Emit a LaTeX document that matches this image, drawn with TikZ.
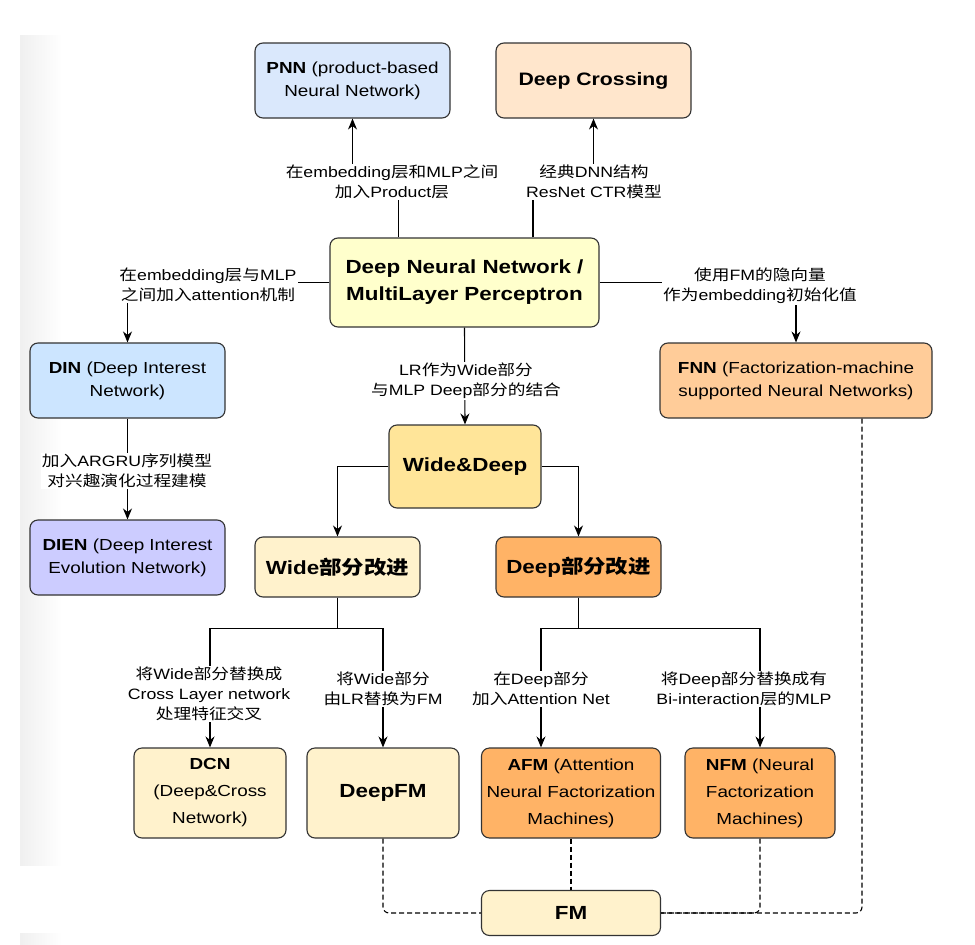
\documentclass[tikz,border=0pt]{standalone}
\usepackage{fontspec}
\usetikzlibrary{arrows.meta}

\setmainfont{Liberation Sans}[FakeStretch=1.18]
\newfontfamily\zhfont{Noto Sans CJK SC}[FakeStretch=1.18]

% Chinese characters switch to the CJK font by themselves
\XeTeXinterchartokenstate=1
\newXeTeXintercharclass\zhclass
\newcount\zhchar
\zhchar="4E00
\loop
  \XeTeXcharclass\zhchar=\zhclass
  \advance\zhchar by 1
\ifnum\zhchar<"A000 \repeat
\XeTeXinterchartoks 0 \zhclass = {\zhfont}
\XeTeXinterchartoks 4095 \zhclass = {\zhfont}
\XeTeXinterchartoks \zhclass 0 = {\rmfamily}

\definecolor{pnnblue}{HTML}{DAE8FC}
\definecolor{dinblue}{HTML}{CCE5FF}
\definecolor{dienviolet}{HTML}{CCCCFF}
\definecolor{peach}{HTML}{FFE6CC}
\definecolor{lightorange}{HTML}{FFCC99}
\definecolor{orange}{HTML}{FFB366}
\definecolor{paleyellow}{HTML}{FFFFCC}
\definecolor{wdyellow}{HTML}{FFE599}
\definecolor{cream}{HTML}{FFF2CC}

\begin{document}
\begin{tikzpicture}[
    x=1pt, y=-1pt,
    box/.style={
        draw=black!80, line width=1.1pt, rounded corners=8pt,
        align=center, inner sep=0pt,
        font=\fontsize{16}{23}\selectfont
    },
    tallbox/.style={box, font=\fontsize{16}{27}\selectfont},
    title/.style={box, font=\fontsize{19}{27}\selectfont\bfseries},
    lbl/.style={
        fill=white, align=center, inner sep=1pt,
        font=\fontsize{15}{20}\selectfont
    },
    arr/.style={line width=1.1pt, -{Stealth[length=11pt,width=9pt]}},
    fmlink/.style={line width=1.1pt, dash pattern=on 5pt off 3pt,
        rounded corners=6pt}
]
    \useasboundingbox (0,0) rectangle (975,945);
    \shade[left color=black!6, right color=white] (20,35) rectangle (62,865);
    \shade[left color=black!6, right color=white] (20,933) rectangle (62,945);

    % boxes
    \node[box, fill=pnnblue, minimum width=195pt, minimum height=75pt]
        (pnn) at (352.5,80.5) {\textbf{PNN} (product-based\\Neural Network)};
    \node[title, fill=peach, minimum width=195pt, minimum height=75pt,
        font=\fontsize{18}{24}\selectfont\bfseries]
        (crossing) at (593.5,80.5) {Deep Crossing};
    \node[title, fill=paleyellow, minimum width=269pt, minimum height=89pt]
        (dnn) at (464.5,282.5) {Deep Neural Network /\\MultiLayer Perceptron};
    \node[box, fill=dinblue, minimum width=195pt, minimum height=75pt]
        (din) at (127.5,380.5) {\textbf{DIN} (Deep Interest\\Network)};
    \node[box, fill=lightorange, minimum width=272pt, minimum height=75pt]
        (fnn) at (796,380.5)
        {\textbf{FNN} (Factorization-machine\\supported Neural Networks)};
    \node[title, fill=wdyellow, minimum width=152pt, minimum height=83pt]
        (widedeep) at (465,466.5) {Wide\&Deep};
    \node[box, fill=dienviolet, minimum width=195pt, minimum height=75pt]
        (dien) at (127.5,557.5) {\textbf{DIEN} (Deep Interest\\Evolution Network)};
    \node[title, fill=cream, minimum width=165pt, minimum height=60pt]
        (wide) at (337.5,567) {Wide部分改进};
    \node[title, fill=orange, minimum width=165pt, minimum height=60pt]
        (deep) at (578.5,567) {Deep部分改进};
    \node[tallbox, fill=cream, minimum width=152pt, minimum height=90pt]
        (dcn) at (210,793) {\textbf{DCN}\\(Deep\&Cross\\Network)};
    \node[title, fill=cream, minimum width=152pt, minimum height=90pt]
        (deepfm) at (383,793) {DeepFM};
    \node[tallbox, fill=orange, minimum width=179pt, minimum height=90pt]
        (afm) at (571,793) {\textbf{AFM} (Attention\\Neural Factorization\\Machines)};
    \node[tallbox, fill=orange, minimum width=150pt, minimum height=90pt]
        (nfm) at (760,793) {\textbf{NFM} (Neural\\Factorization\\Machines)};
    \node[title, fill=cream, minimum width=179pt, minimum height=45pt]
        (fm) at (571,913) {FM};

    % connectors
    \draw[arr] ([xshift=-66pt]dnn.north) -- ++(0,-60) -| (pnn.south);
    \draw[arr] ([xshift=68.5pt]dnn.north) -- ++(0,-60) -| (crossing.south);
    \draw[arr] (dnn.west) -| (din.north);
    \draw[arr] (dnn.east) -| (fnn.north);
    \draw[arr] (dnn.south) -- (widedeep.north);
    \draw[arr] (din.south) -- (dien.north);
    \draw[arr] (widedeep.west) -| (wide.north);
    \draw[arr] (widedeep.east) -| (deep.north);
    \draw[arr] (wide.south) -- ++(0,31) -| (dcn.north);
    \draw[arr] (wide.south) -- ++(0,31) -| (deepfm.north);
    \draw[arr] (deep.south) -- ++(0,31) -| ([xshift=-30pt]afm.north);
    \draw[arr] (deep.south) -- ++(0,31) -| (nfm.north);

    \draw[fmlink] (deepfm.south) |- (fm.west);
    \draw[fmlink] (afm.south) -- (fm.north);
    \draw[fmlink] (nfm.south) |- (fm.east);
    \draw[fmlink] ([xshift=66pt]fnn.south) |- (fm.east);

    % labels
    \node[lbl] (pnnlabel) at (392,182) {在embedding层和MLP之间\\加入Product层};
    \node[lbl] (crossinglabel) at (594,182) {经典DNN结构\\ResNet CTR模型};
    \node[lbl] (dinlabel) at (208,285) {在embedding层与MLP\\之间加入attention机制};
    \node[lbl] (fnnlabel) at (760,286) {使用FM的隐向量\\作为embedding初始化值};
    \node[lbl] (wdlabel) at (466,381) {LR作为Wide部分\\与MLP Deep部分的结合};
    \node[lbl] (dienlabel) at (127,471) {加入ARGRU序列模型\\对兴趣演化过程建模};
    \node[lbl] (dcnlabel) at (209,694)
        {将Wide部分替换成\\Cross Layer network\\处理特征交叉};
    \node[lbl] (deepfmlabel) at (383,689) {将Wide部分\\由LR替换为FM};
    \node[lbl] (afmlabel) at (541,689) {在Deep部分\\加入Attention Net};
    \node[lbl] (nfmlabel) at (744,689) {将Deep部分替换成有\\Bi-interaction层的MLP};
\end{tikzpicture}
\end{document}
